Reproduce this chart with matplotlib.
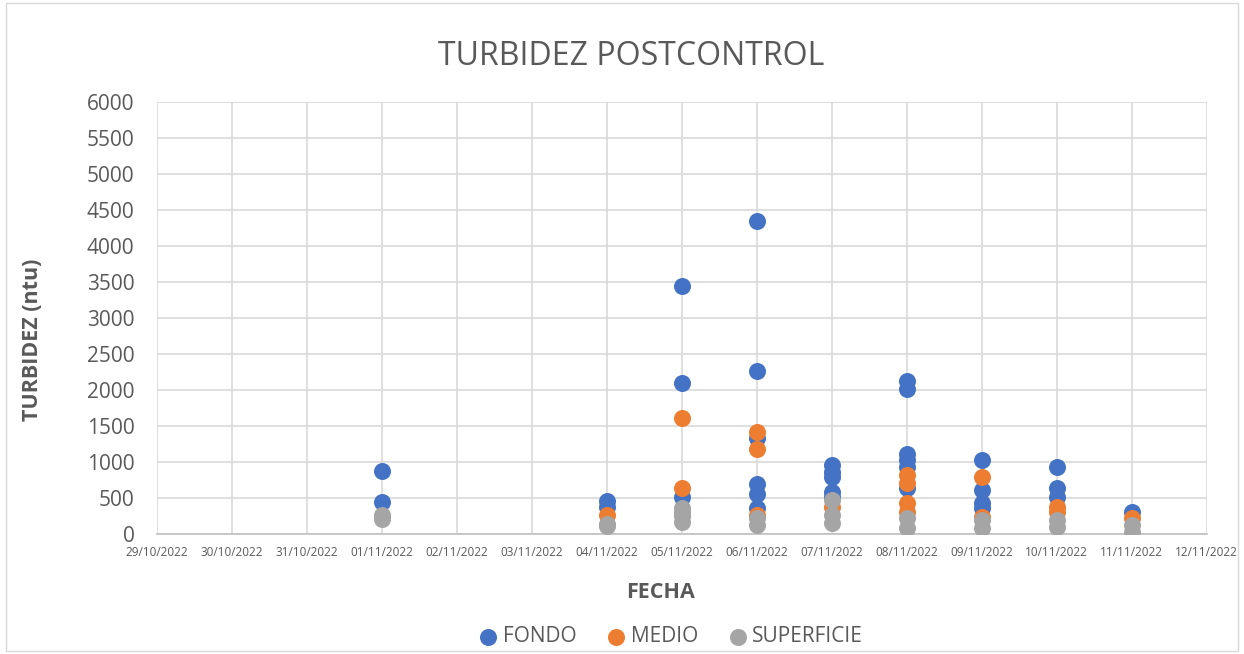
import matplotlib.pyplot as plt
import matplotlib.dates as mdates
import pandas as pd

# series values: (date, turbidity ntu)
fondo_fechas = ["2022-11-01", "2022-11-01",
                "2022-11-04", "2022-11-04",
                "2022-11-05", "2022-11-05", "2022-11-05",
                "2022-11-06", "2022-11-06", "2022-11-06", "2022-11-06", "2022-11-06", "2022-11-06",
                "2022-11-07", "2022-11-07", "2022-11-07", "2022-11-07", "2022-11-07",
                "2022-11-08", "2022-11-08", "2022-11-08", "2022-11-08", "2022-11-08", "2022-11-08",
                "2022-11-09", "2022-11-09", "2022-11-09", "2022-11-09",
                "2022-11-10", "2022-11-10", "2022-11-10",
                "2022-11-11"]
fondo_vals = [870, 450,
              460, 375,
              3445, 2100, 515,
              4345, 2265, 1330, 690, 555, 360,
              960, 860, 790, 585, 515,
              2125, 2010, 1110, 1030, 930, 640,
              1025, 610, 430, 360,
              930, 640, 520,
              310]

medio_fechas = ["2022-11-01",
                "2022-11-04",
                "2022-11-05", "2022-11-05", "2022-11-05",
                "2022-11-06", "2022-11-06", "2022-11-06",
                "2022-11-07",
                "2022-11-08", "2022-11-08", "2022-11-08", "2022-11-08",
                "2022-11-09", "2022-11-09",
                "2022-11-10", "2022-11-10",
                "2022-11-11"]
medio_vals = [230,
              265,
              1610, 640, 290,
              1420, 1180, 265,
              375,
              820, 710, 430, 310,
              790, 240,
              375, 310,
              220]

superficie_fechas = ["2022-11-01", "2022-11-01",
                     "2022-11-04", "2022-11-04",
                     "2022-11-05", "2022-11-05", "2022-11-05", "2022-11-05",
                     "2022-11-06", "2022-11-06",
                     "2022-11-07", "2022-11-07", "2022-11-07",
                     "2022-11-08", "2022-11-08",
                     "2022-11-09", "2022-11-09",
                     "2022-11-10", "2022-11-10",
                     "2022-11-11", "2022-11-11"]
superficie_vals = [260, 210,
                   140, 110,
                   360, 300, 250, 170,
                   220, 125,
                   470, 265, 150,
                   225, 90,
                   195, 90,
                   195, 100,
                   125, 30]

series = [
    ("FONDO", fondo_fechas, fondo_vals, "#4472C4"),
    ("MEDIO", medio_fechas, medio_vals, "#ED7D31"),
    ("SUPERFICIE", superficie_fechas, superficie_vals, "#A5A5A5"),
]

plt.rcParams['font.family'] = ['Open Sans', 'DejaVu Sans']
gris = "#595959"

fig = plt.figure(figsize=(12.44, 6.54), dpi=100)
ax = fig.add_axes([0.126, 0.1835, 0.844, 0.6605])

for nombre, fechas, vals, color in series:
    ax.scatter(pd.to_datetime(fechas), vals, s=150, color=color, label=nombre,
               zorder=3, linewidths=0)

ax.set_xlim(pd.Timestamp("2022-10-29"), pd.Timestamp("2022-11-12"))
ax.set_ylim(0, 6000)
ax.set_yticks(range(0, 6001, 500))
ax.xaxis.set_major_locator(mdates.DayLocator())
ax.xaxis.set_major_formatter(mdates.DateFormatter("%d/%m/%Y"))

ax.grid(True, color="#d9d9d9", linewidth=1.2)
ax.set_axisbelow(True)
for lado in ["top", "right", "left"]:
    ax.spines[lado].set_visible(False)
ax.spines["bottom"].set_color("#bfbfbf")
ax.spines["bottom"].set_linewidth(1.2)
ax.tick_params(axis="both", length=0, colors=gris)
ax.tick_params(axis="y", labelsize=15, pad=16)
ax.tick_params(axis="x", labelsize=8.5, pad=9)

fig.text(0.507, 0.913, "TURBIDEZ POSTCONTROL", fontsize=23, color=gris,
         ha="center", va="center")
ax.set_xlabel("FECHA", fontsize=15.5, fontweight="bold", color=gris)
ax.xaxis.set_label_coords(0.48, -0.111)
ax.set_ylabel("TURBIDEZ (ntu)", fontsize=15.5, fontweight="bold", color=gris)
ax.yaxis.set_label_coords(-0.1086, 0.45)

leg = fig.legend(loc="center", bbox_to_anchor=(0.539, 0.026), ncol=3, frameon=False,
                 fontsize=15, handlelength=1.0, handletextpad=0.2, columnspacing=1.4)
for t in leg.get_texts():
    t.set_color(gris)

borde = plt.Rectangle((0.005, 0.005), 0.99, 0.99, transform=fig.transFigure,
                      fill=False, edgecolor="#d9d9d9", linewidth=1)
fig.patches.append(borde)

fig.savefig("out.png", dpi=100)
